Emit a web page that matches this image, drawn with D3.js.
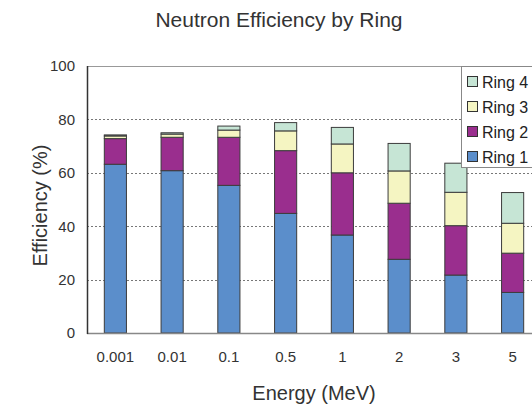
<!DOCTYPE html>
<html>
<head>
<meta charset="utf-8">
<script src="https://cdn.jsdelivr.net/npm/d3@7"></script>
<style>
  body { margin: 0; background: #fff; }
  svg { display: block; font-family: "Liberation Sans", Arial, sans-serif; }
</style>
</head>
<body>
<script>
// energies (MeV) on the x axis
const energies = ["0.001", "0.01", "0.1", "0.5", "1", "2", "3", "5"];
// efficiency (%) contributed by each ring
const ring1 = [63.2, 60.8, 55.3, 44.8, 36.7, 27.6, 21.7, 15.2];
const ring2 = [9.6, 12.5, 18.0, 23.5, 23.3, 21.0, 18.5, 14.7];
const ring3 = [1.0, 1.2, 2.7, 7.4, 10.8, 12.1, 12.5, 11.2];
const ring4 = [0.4, 0.5, 1.5, 3.1, 6.2, 10.3, 10.9, 11.5];
const seriesNames = ["Ring 1", "Ring 2", "Ring 3", "Ring 4"];
const colors = ["#5b8ecb", "#9a2e8e", "#f5f5c2", "#c6e5d5"];
const yTicks = [0, 20, 40, 60, 80, 100];

const width = 532, height = 405;
// plot area runs off the right edge, like the reference
const plot = { left: 87, right: 541, top: 66, bottom: 333 };

const rows = energies.map((e, i) => ({
  energy: e,
  "Ring 1": ring1[i], "Ring 2": ring2[i], "Ring 3": ring3[i], "Ring 4": ring4[i]
}));
const stacked = d3.stack().keys(seriesNames)(rows);

const svg = d3.select("body").append("svg")
    .attr("width", width)
    .attr("height", height);

const x = d3.scaleBand()
    .domain(energies)
    .range([plot.left, plot.right])
    .paddingInner(0.61)
    .paddingOuter(0.305);
const y = d3.scaleLinear()
    .domain([0, 100])
    .range([plot.bottom, plot.top]);

// title
svg.append("text")
    .attr("x", 279).attr("y", 27)
    .attr("text-anchor", "middle")
    .style("font-size", "21px")
    .style("fill", "#333")
    .text("Neutron Efficiency by Ring");

// gridlines (dotted)
svg.append("g")
  .selectAll("line")
  .data(yTicks.filter(t => t > 0 && t < 100))
  .enter().append("line")
    .attr("x1", plot.left).attr("x2", plot.right)
    .attr("y1", d => Math.round(y(d)) + 0.5)
    .attr("y2", d => Math.round(y(d)) + 0.5)
    .style("stroke", "#777")
    .style("stroke-dasharray", "2,2");

// top border of plot
svg.append("line")
    .attr("x1", plot.left).attr("x2", plot.right)
    .attr("y1", plot.top + 0.5).attr("y2", plot.top + 0.5)
    .style("stroke", "#999");

// y axis labels
const yAxis = svg.append("g")
    .attr("transform", "translate(" + plot.left + ",0)")
    .call(d3.axisLeft(y).tickValues(yTicks).tickSize(0).tickPadding(12));
yAxis.select(".domain").remove();
yAxis.selectAll("text")
    .style("font-size", "15px")
    .style("font-family", "Liberation Sans, Arial, sans-serif")
    .style("fill", "#333");

// bars
svg.append("g")
  .selectAll("g")
  .data(stacked)
  .enter().append("g")
    .style("fill", (d, i) => colors[i])
  .selectAll("rect")
  .data(d => d)
  .enter().append("rect")
    .attr("x", d => x(d.data.energy))
    .attr("y", d => y(d[1]))
    .attr("width", x.bandwidth())
    .attr("height", d => y(d[0]) - y(d[1]))
    .style("stroke", "#3c3c3c")
    .style("stroke-width", 1);

// axis lines
svg.append("line")
    .attr("x1", plot.left).attr("x2", plot.right)
    .attr("y1", plot.bottom + 0.5).attr("y2", plot.bottom + 0.5)
    .style("stroke", "#888")
    .style("stroke-width", 1.5);
svg.append("line")
    .attr("x1", plot.left + 0.5).attr("x2", plot.left + 0.5)
    .attr("y1", plot.top).attr("y2", plot.bottom + 1)
    .style("stroke", "#333")
    .style("stroke-width", 1.5);

// x axis labels
const xAxis = svg.append("g")
    .attr("transform", "translate(0," + plot.bottom + ")")
    .call(d3.axisBottom(x).tickSize(0).tickPadding(18));
xAxis.select(".domain").remove();
xAxis.selectAll("text")
    .style("font-size", "15px")
    .style("font-family", "Liberation Sans, Arial, sans-serif")
    .style("fill", "#333");

// axis titles
svg.append("text")
    .attr("x", (plot.left + plot.right) / 2).attr("y", 400)
    .attr("text-anchor", "middle")
    .style("font-size", "20px")
    .style("fill", "#333")
    .text("Energy (MeV)");
svg.append("text")
    .attr("transform", "translate(47," + ((plot.top + plot.bottom) / 2 + 6) + ") rotate(-90)")
    .attr("text-anchor", "middle")
    .style("font-size", "20px")
    .style("fill", "#333")
    .text("Efficiency (%)");

// legend, top item is Ring 4; box runs past the right edge as in the reference
const legend = svg.append("g").attr("transform", "translate(461,66)");
legend.append("rect")
    .attr("x", 0.5).attr("y", 0.5)
    .attr("width", 120).attr("height", 101)
    .style("fill", "#fff")
    .style("stroke", "#888");
const items = legend.selectAll(".item")
    .data(seriesNames.slice().reverse())
    .enter().append("g")
    .attr("class", "item")
    .attr("transform", (d, i) => "translate(6," + (16 + i * 25) + ")");
items.append("rect")
    .attr("x", 0.5).attr("y", -5.5)
    .attr("width", 10).attr("height", 10)
    .style("fill", d => colors[seriesNames.indexOf(d)])
    .style("stroke", "#333");
items.append("text")
    .attr("x", 15).attr("y", 6)
    .style("font-size", "16px")
    .style("fill", "#222")
    .text(d => d);
</script>
</body>
</html>
